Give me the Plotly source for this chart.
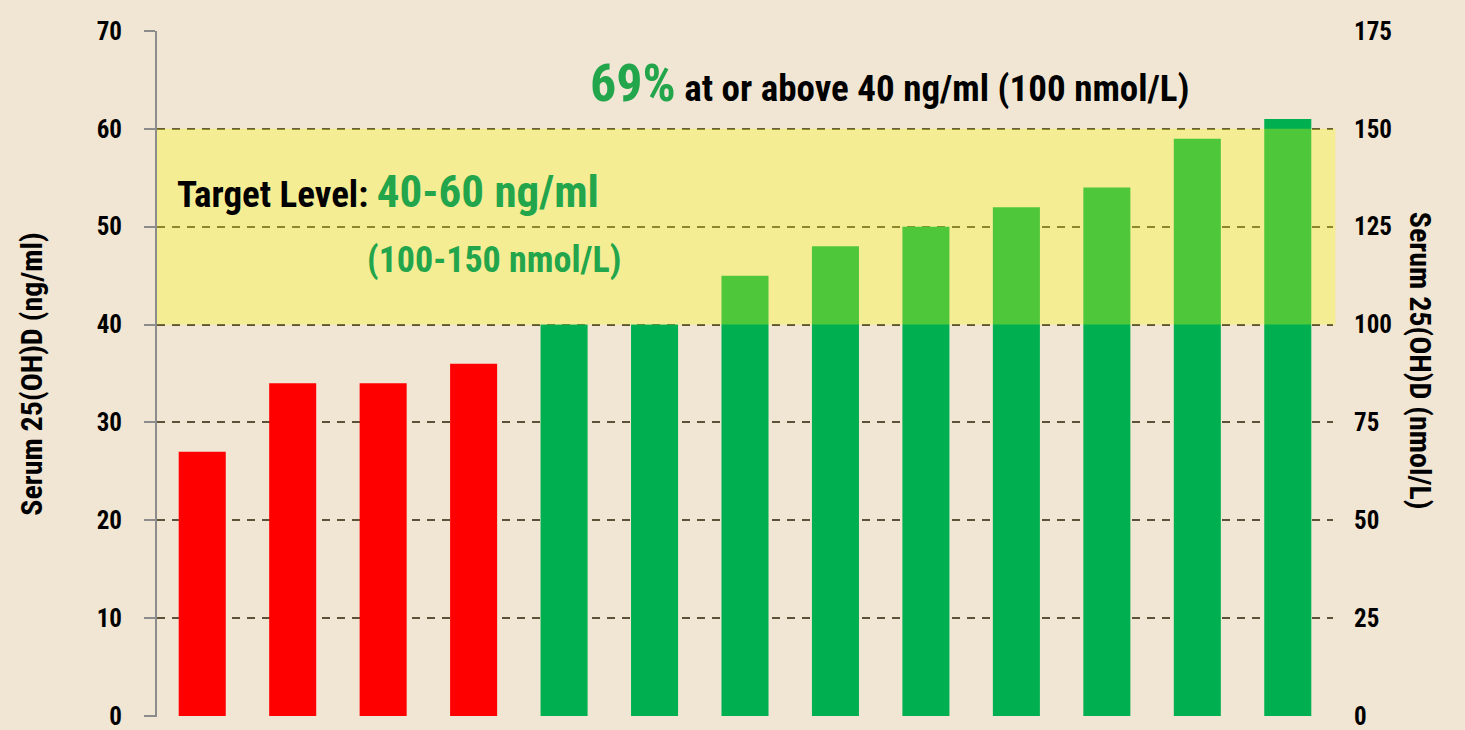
import plotly.graph_objects as go

# ---- data ----
categories = list(range(1, 14))
values_ngml = [27, 34, 34, 36, 40, 40, 45, 48, 50, 52, 54, 59, 61]
left_ticks = [0, 10, 20, 30, 40, 50, 60, 70]
right_ticks = [0, 25, 50, 75, 100, 125, 150, 175]
target_low, target_high = 40, 60
pct_above = "69%"

FONT = "Roboto Condensed, Open Sans, sans-serif"
BG = "#f1e6d3"
GREEN_BAR = "#00b050"
RED_BAR = "#ff0000"
GREEN_TXT = "#22a54b"

colors = [GREEN_BAR if v >= target_low else RED_BAR for v in values_ngml]

fig = go.Figure()
fig.add_trace(go.Bar(
    x=categories, y=values_ngml, marker=dict(color=colors, line=dict(width=0)),
    width=0.52, hoverinfo="skip", showlegend=False,
))

fig.add_shape(type="rect", xref="paper", yref="y", x0=0, x1=1.002,
              y0=target_low, y1=target_high, layer="above",
              fillcolor="rgba(255,252,10,0.31)", line=dict(width=0))

fig.update_layout(
    width=1465, height=730,
    margin=dict(l=157, r=132, t=31, b=13),
    paper_bgcolor=BG, plot_bgcolor=BG,
    font=dict(family=FONT, color="black"),
    xaxis=dict(range=[0.5, 13.5], showticklabels=False, showgrid=False,
               zeroline=False, showline=False, ticks="", automargin=False),
    yaxis=dict(range=[-0.1, 70], tickvals=left_ticks, showgrid=True,
               gridcolor="#5a5338", gridwidth=2, griddash="8px,7px",
               zeroline=False, showline=True, linecolor="#8c8c8c", linewidth=2,
               ticks="outside", ticklen=11, tickwidth=2, tickcolor="#8c8c8c",
               tickfont=dict(family=FONT, size=25, color="black", weight="bold"),
               ticklabelstandoff=17, ticklabeloverflow="allow", automargin=False,
               title=dict(text="Serum 25(OH)D (ng/ml)", standoff=45,
                          font=dict(family=FONT, size=30, color="black", weight="bold"))),
    yaxis2=dict(range=[-0.25, 175], tickvals=right_ticks, overlaying="y", side="right",
                showgrid=False, zeroline=False, showline=False, ticks="",
                ticklabelstandoff=20, ticklabeloverflow="allow", automargin=False,
                tickfont=dict(family=FONT, size=25, color="black", weight="bold")),
)

fig.add_annotation(xref="paper", yref="paper", x=1.0 + (1440 - 1333) / 1176, y=0.52,
                   text="Serum 25(OH)D (nmol/L)", textangle=90, showarrow=False,
                   font=dict(family=FONT, size=30, color="black", weight="bold"))

fig.add_annotation(xref="paper", yref="y", x=(588 - 157) / 1176, y=64.6,
                   xanchor="left", yanchor="middle", showarrow=False,
                   text=(f"<span style='color:{GREEN_TXT};font-size:52px'>{pct_above}</span>"
                         f" at or above {target_low} ng/ml (100 nmol/L)"),
                   font=dict(family=FONT, size=37, color="black", weight="bold"))

fig.add_annotation(xref="paper", yref="y", x=(175 - 157) / 1176, y=53.6,
                   xanchor="left", yanchor="middle", showarrow=False,
                   text=(f"Target Level: <span style='color:{GREEN_TXT};font-size:45px'>"
                         f"{target_low}-{target_high} ng/ml</span>"),
                   font=dict(family=FONT, size=37, color="black", weight="bold"))

fig.add_annotation(xref="paper", yref="y", x=(365 - 157) / 1176, y=46.6,
                   xanchor="left", yanchor="middle", showarrow=False,
                   text="(100-150 nmol/L)",
                   font=dict(family=FONT, size=36, color=GREEN_TXT, weight="bold"))

fig.add_trace(go.Scatter(x=[categories[0]], y=[values_ngml[0] * 2.5], yaxis="y2",
                         mode="markers", marker=dict(opacity=0), hoverinfo="skip",
                         showlegend=False))

fig.write_html("out.html", config={"displayModeBar": False},
               post_script="document.body.style.margin='0';document.body.style.overflow='hidden';")
